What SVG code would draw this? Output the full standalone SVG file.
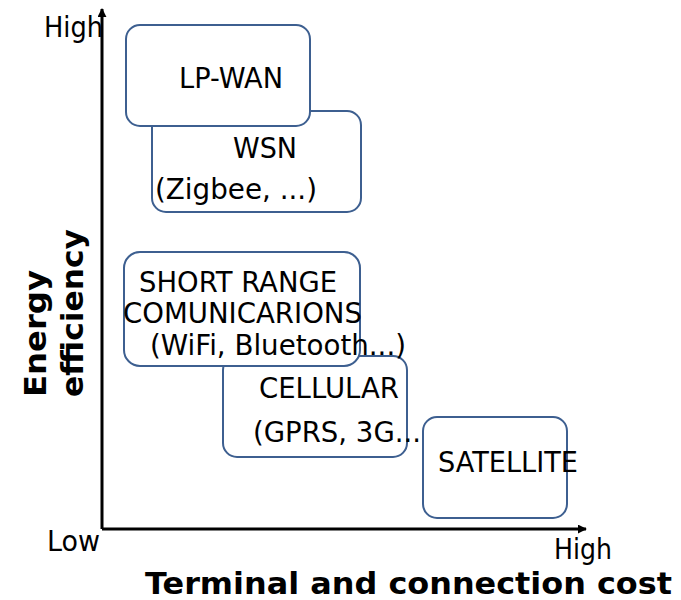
<svg xmlns="http://www.w3.org/2000/svg" width="681" height="600" viewBox="0 0 681 600">
  <style>
    .box { fill: #ffffff; stroke: #3d5f90; stroke-width: 2; }
    .lbl { font-family: "DejaVu Sans", sans-serif; font-size: 27.5px; fill: #000000; }
    .ttl { font-family: "DejaVu Sans", sans-serif; font-size: 31px; font-weight: bold; fill: #000000; }
    .axis { stroke: #000000; stroke-width: 3; fill: none; }
  </style>
  <defs>
    <marker id="arr" viewBox="0 0 10 10" refX="9" refY="5" markerWidth="3" markerHeight="3" orient="auto" markerUnits="strokeWidth">
      <path d="M0,0 L10,5 L0,10 z" fill="#000000"/>
    </marker>
  </defs>

  <rect width="681" height="600" fill="#ffffff"/>

  <!-- axes -->
  <g id="connectors">
    <line class="axis" x1="102" y1="529" x2="102" y2="9" marker-end="url(#arr)"/>
    <line class="axis" x1="102" y1="529" x2="586" y2="529" marker-end="url(#arr)"/>
  </g>

  <!-- axis labels -->
  <g id="axis-labels">
    <text class="lbl" x="44" y="37" textLength="59" lengthAdjust="spacingAndGlyphs">High</text>
    <text class="lbl" x="47" y="551" textLength="53" lengthAdjust="spacingAndGlyphs">Low</text>
    <text class="lbl" x="554" y="559" textLength="58" lengthAdjust="spacingAndGlyphs">High</text>
    <text class="ttl" x="145" y="594" textLength="527" lengthAdjust="spacingAndGlyphs">Terminal and connection cost</text>
    <text class="ttl" transform="translate(46,397) rotate(-90)" textLength="127" lengthAdjust="spacingAndGlyphs">Energy</text>
    <text class="ttl" transform="translate(83,397) rotate(-90)" textLength="168" lengthAdjust="spacingAndGlyphs">efficiency</text>
  </g>

  <g id="wsn">
    <rect class="box" x="152" y="111" width="209" height="101" rx="14"/>
    <text class="lbl" x="233" y="158" textLength="64" lengthAdjust="spacingAndGlyphs">WSN</text>
    <text class="lbl" x="155" y="199" textLength="162" lengthAdjust="spacingAndGlyphs">(Zigbee, ...)</text>
  </g>

  <g id="lpwan">
    <rect class="box" x="126" y="25" width="184" height="101" rx="14"/>
    <text class="lbl" x="179" y="88" textLength="104" lengthAdjust="spacingAndGlyphs">LP-WAN</text>
  </g>

  <g id="cellular">
    <rect class="box" x="223" y="356" width="184" height="101" rx="14"/>
    <text class="lbl" x="259" y="398" textLength="140" lengthAdjust="spacingAndGlyphs">CELLULAR</text>
    <text class="lbl" x="253" y="442" textLength="168" lengthAdjust="spacingAndGlyphs">(GPRS, 3G...</text>
  </g>

  <g id="short-range">
    <rect class="box" x="124" y="252" width="236" height="114" rx="16"/>
    <text class="lbl" x="139" y="292" textLength="198" lengthAdjust="spacingAndGlyphs">SHORT RANGE</text>
    <text class="lbl" x="123" y="323" textLength="239" lengthAdjust="spacingAndGlyphs">COMUNICARIONS</text>
    <text class="lbl" x="150" y="355" textLength="256" lengthAdjust="spacingAndGlyphs">(WiFi, Bluetooth...)</text>
  </g>

  <g id="satellite">
    <rect class="box" x="423" y="417" width="144" height="101" rx="14"/>
    <text class="lbl" x="438" y="472" textLength="140" lengthAdjust="spacingAndGlyphs">SATELLITE</text>
  </g>
</svg>
